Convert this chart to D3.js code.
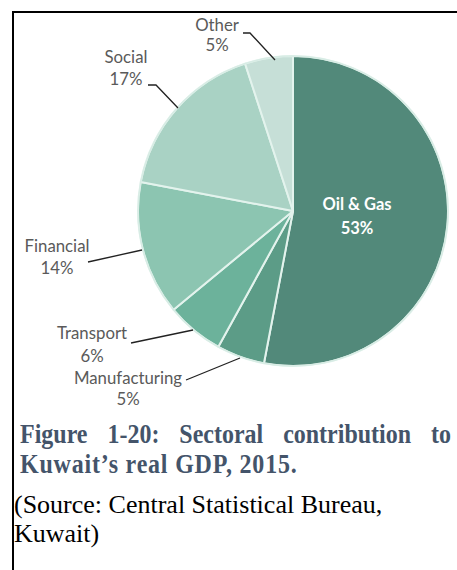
<!DOCTYPE html>
<html><head><meta charset="utf-8">
<script src="https://cdn.jsdelivr.net/npm/d3@7"></script>
<style>
html,body{margin:0;padding:0;background:#fff;}
svg{display:block;}
</style></head>
<body>
<svg id="chart" width="457" height="570"></svg>
<script>
const categories = ["Oil & Gas", "Manufacturing", "Transport", "Financial", "Social", "Other"];
const values = [53, 5, 6, 14, 17, 5];
const colors = ["#52897a", "#5c9c87", "#6cb29b", "#8cc5b1", "#a9d2c4", "#c6dfd7"];
const captionLines = ["Figure 1-20: Sectoral contribution to", "Kuwait\u2019s real GDP, 2015."];
const sourceLines = ["(Source: Central Statistical Bureau,", "Kuwait)"];

const svg = d3.select("#chart");
svg.append("line").attr("x1", 12).attr("x2", 457).attr("y1", 12).attr("y2", 12).attr("stroke", "#000").attr("stroke-width", 2);
svg.append("line").attr("x1", 13).attr("x2", 13).attr("y1", 11).attr("y2", 570).attr("stroke", "#000").attr("stroke-width", 2);

const cx = 293, cy = 211, R = 155;
const pie = d3.pie().sort(null).value(d => d.v);
const data = pie(categories.map((c, i) => ({c, v: values[i], col: colors[i]})));
const arc = d3.arc().innerRadius(0).outerRadius(R);
const g = svg.append("g").attr("transform", `translate(${cx},${cy})`);
g.selectAll("path").data(data).join("path")
  .attr("d", arc).attr("fill", d => d.data.col)
  .attr("stroke", "#e3f3ed").attr("stroke-width", 2).attr("stroke-linejoin", "round");
g.append("circle").attr("r", R).attr("fill", "none").attr("stroke", "#d8ece5").attr("stroke-width", 1.5);

const labelPos = {
  "Other":         {x: 217, y1: 31, y2: 51, line: [[243,33],[250,33],[275,60]]},
  "Social":        {x: 126, y1: 63, y2: 85, line: [[148,85],[156,85],[178,108]]},
  "Financial":     {x: 57,  y1: 252, y2: 274, line: [[88,262],[142,250]]},
  "Transport":     {x: 92,  y1: 339, y2: 362, line: [[131,343],[193,330]]},
  "Manufacturing": {x: 128, y1: 384, y2: 405, line: [[186,380],[191,378],[240,358]]}
};
const lab = svg.append("g").attr("font-family", "Lato, 'Open Sans', sans-serif").attr("font-size", 16.8).attr("fill", "#5a5a5a");
data.forEach(d => {
  const p = labelPos[d.data.c];
  if (!p) return;
  lab.append("text").attr("x", p.x).attr("y", p.y1).attr("text-anchor", "middle").text(d.data.c);
  lab.append("text").attr("x", p.x).attr("y", p.y2).attr("text-anchor", "middle").text(d.data.v + "%");
  svg.append("path").attr("d", d3.line()(p.line)).attr("fill", "none").attr("stroke", "#222").attr("stroke-width", 1.3);
});
const oil = data[0];
const oilG = svg.append("g").attr("font-family", "Lato, sans-serif").attr("font-weight", "bold").attr("font-size", 16.5).attr("fill", "#fff").attr("text-anchor", "middle");
oilG.append("text").attr("x", 357).attr("y", 210).text(oil.data.c);
oilG.append("text").attr("x", 357).attr("y", 234).text(oil.data.v + "%");

const cap = svg.append("g").attr("font-family", "'Liberation Serif', 'Times New Roman', serif").attr("font-weight", "bold").attr("font-size", 24).attr("fill", "#44546a");
const t1 = cap.append("text").attr("transform", "translate(20,443) scale(1,1.1)").text(captionLines[0]);
const w1 = t1.node().getComputedTextLength();
const words = captionLines[0].split(" ").length;
t1.attr("word-spacing", Math.max(0, (451 - 20 - w1) / (words - 1)));
cap.append("text").attr("transform", "translate(20,473) scale(1,1.1)").attr("letter-spacing", 0.8).text(captionLines[1]);

const src = svg.append("g").attr("font-family", "'Liberation Serif', 'Times New Roman', serif").attr("font-size", 26).attr("fill", "#000");
src.append("text").attr("x", 14).attr("y", 513).text(sourceLines[0]);
src.append("text").attr("x", 14).attr("y", 542).text(sourceLines[1]);
</script>
</body></html>
